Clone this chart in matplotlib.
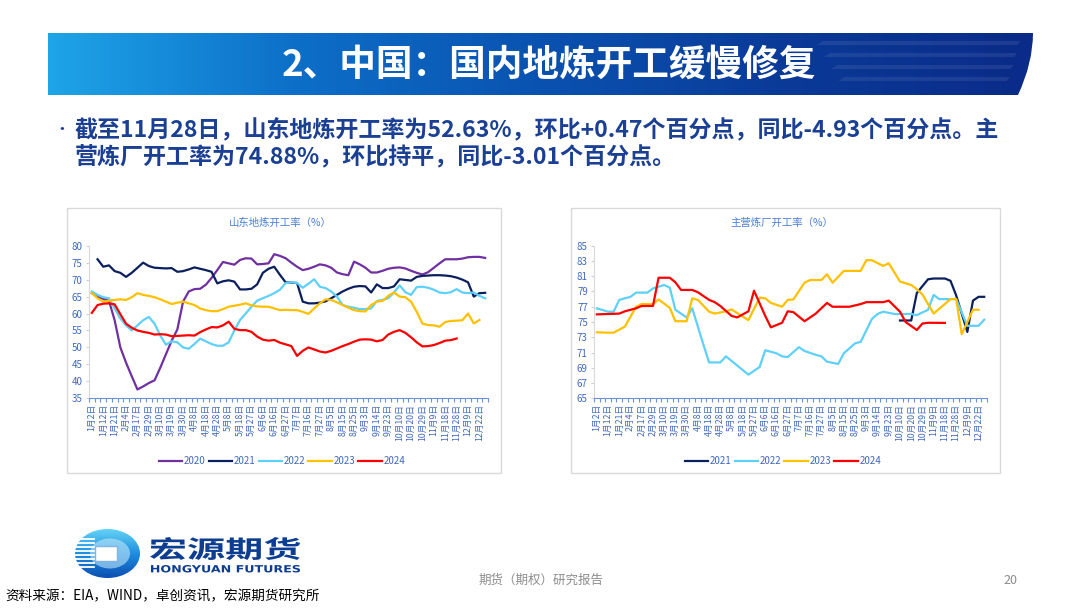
import numpy as np
import matplotlib
matplotlib.use("Agg")
import matplotlib.pyplot as plt
from matplotlib.colors import LinearSegmentedColormap
from matplotlib.patches import Rectangle, PathPatch, Ellipse, Polygon
from matplotlib.path import Path
from matplotlib.textpath import TextPath
from matplotlib.font_manager import FontProperties
from matplotlib.transforms import Affine2D

plt.rcParams['font.family'] = ['Noto Sans CJK SC', 'DejaVu Sans']

# ---------------------------------------------------------------- data
tick_labels = ['1月2日', '1月12日', '1月21日', '2月4日', '2月17日', '2月29日', '3月10日',
               '3月19日', '3月30日', '4月8日', '4月18日', '4月28日', '5月8日', '5月18日',
               '5月27日', '6月6日', '6月16日', '6月27日', '7月7日', '7月16日', '7月27日',
               '8月5日', '8月15日', '8月25日', '9月3日', '9月14日', '9月23日', '10月10日',
               '10月20日', '10月29日', '11月9日', '11月18日', '11月28日', '12月9日', '12月22日']

# 山东地炼开工率 (%)
sd_2020 = [66, 65, 64.3, 63.8, 58, 50, 45.5, 41.5, 37.6, 38.5,
           39.5, 40.3, 44, 48, 52, 55.3, 63.5, 66.5, 67.2, 67.3,
           68.5, 70.5, 72.8, 75.2, 74.8, 74.4, 75.8, 76.3, 76.2, 74.5,
           74.6, 74.8, 77.5, 77, 76.3, 75, 73.8, 72.8, 73.2, 73.8,
           74.5, 74.2, 73.5, 72.1, 71.6, 71.3, 75.3, 74.5, 73.5, 72.1,
           72.1, 72.6, 73.2, 73.5, 73.6, 73.3, 72.6, 72, 71.5, 72.2,
           73.5, 74.8, 76, 76, 76, 76.2, 76.6, 76.7, 76.7, 76.4]
sd_2021 = [None, 76, 73.8, 74.2, 72.5, 72, 70.8, 72, 73.5, 75,
           74, 73.5, 73.4, 73.3, 73.4, 72.3, 72.5, 73, 73.6, 73.2,
           72.8, 72.3, 68.9, 69.5, 69.8, 69.4, 67.1, 67.1, 67.3, 68.6,
           72, 73.2, 73.8, 71.4, 69.2, 69.1, 69, 63.5, 63, 63,
           63.2, 63.6, 64.5, 65.5, 66.5, 67.3, 67.9, 68.1, 68, 66.2,
           68.6, 67.5, 67.5, 68, 70.1, 69.9, 69.7, 70.8, 71.1, 71.2,
           71.3, 71.3, 71.2, 71, 70.6, 70, 69.2, 65, 66, 66.1]
sd_2022 = [66.5, 65.5, 64.8, 64.5, 61.5, 58.5, 56.5, 55, 56.5, 58,
           59, 57, 53.5, 50.8, 51.8, 51.5, 50, 49.6, 51, 52.6,
           51.8, 51, 50.5, 50.5, 51.5, 55, 58.1, 60, 62, 63.8,
           64.5, 65.2, 66, 67, 69, 69.2, 69, 67.6, 68.8, 70.1,
           67.9, 67.5, 66.5, 65, 62.5, 62, 61.7, 61.3, 61.3, 61.5,
           63.7, 64, 64.5, 66.2, 68.3, 66.3, 65.5, 67.8, 67.9, 67.6,
           67, 66.2, 66, 66.3, 67.2, 66.2, 66, 66.2, 65.2, 64.5]
sd_2023 = [66, 64.5, 63.5, 63.8, 64, 64.2, 64, 64.8, 66, 65.5,
           65.2, 64.8, 64.2, 63.5, 62.8, 63.2, 63.5, 63, 62.5, 61.5,
           61, 60.7, 60.7, 61.3, 62, 62.3, 62.6, 63, 62.4, 62.1,
           62, 62, 61.5, 61, 61.1, 61, 61, 60.5, 59.9, 61.5,
           63, 64.2, 64, 63.3, 62.5, 61.7, 61, 60.7, 60.6, 62.5,
           63.5, 63.7, 65.2, 66.2, 65, 64.8, 63.5, 60.5, 57, 56.6,
           56.5, 56.1, 57.5, 57.8, 57.9, 58, 60, 57.1, 58.1, None]
sd_2024 = [60.2, 62.5, 62.9, 63, 62.7, 59.8, 57, 55.8, 55, 54.6,
           54.3, 53.8, 53.9, 53.8, 53.3, 53.4, 53.5, 53.6, 53.5, 54.5,
           55.3, 56, 55.9, 56.5, 57.6, 55.5, 55.1, 55.1, 54.6, 53.2,
           52.3, 52, 52.2, 51.4, 50.9, 50.4, 47.5, 49, 50, 49.4,
           48.8, 48.5, 49, 49.7, 50.4, 51, 51.7, 52.3, 52.4, 52.3,
           51.8, 52.2, 53.8, 54.6, 55.1, 54.3, 53, 51.5, 50.3, 50.4,
           50.7, 51.3, 52, 52.16, 52.63, None, None, None, None, None]

# 主营炼厂开工率 (%)
zy_2021 = [None] * 54 + [75.2, None, 75.2, 78.8, None, 80.6, 80.7, None,
                         80.7, 80.4, 78.5, None, 73.7, 77.8, 78.3, 78.3]
zy_2022 = [76.8, None, 76.35, 76.35, 77.9, None, 78.3, 78.85, None, 78.85,
           79.4, None, 79.85, 79.5, 76.6, None, 75.6, 76.8, None, 72.0,
           69.7, None, 69.7, 70.5, None, None, None, 68.1, None, 69.1,
           71.3, None, 70.9, 70.5, 70.4, None, 71.7, 71.2, None, 70.7,
           70.5, 69.8, None, 69.5, 70.9, None, 72.2, 72.4, None, 75.4,
           76.05, 76.35, None, 76.05, 76.05, None, 76.05, 75.9, None, 76.6,
           78.55, 78.0, None, 78.0, 78.0, None, 74.5, None, 74.5, 75.3]
zy_2023 = [73.65, None, 73.6, 73.6, None, 74.4, None, 77.0, 77.35, None,
           77.35, 77.95, None, 76.85, 75.1, None, 75.1, 78.1, 77.9, None,
           76.35, 76.1, None, 76.4, 76.65, None, 75.7, 75.25, None, 78.2,
           78.1, 77.5, None, 77.0, 77.9, 77.95, None, 80.15, 80.5, None,
           80.5, 81.25, 80.15, None, 81.7, None, None, 81.7, 83.1, 83.1,
           None, 82.35, 82.7, None, 80.3, None, 79.85, 79.3, 78.6, None,
           76.1, None, None, 78.0, 78.0, 73.4, None, 76.6, 76.6, None]
zy_2024 = [76.0, None, 76.05, None, 76.1, 76.4, None, 76.8, 77.1, None,
           77.1, 80.8, None, 80.8, 80.2, 79.2, None, 79.2, 78.9, None,
           77.9, 77.6, 77.1, None, 75.8, 75.6, None, 76.4, 79.1, None,
           75.8, 74.3, None, 74.9, 76.4, 76.3, None, 75.1, None, 76.1,
           None, 77.5, 77.0, None, None, 77.0, None, 77.35, 77.6, None,
           None, 77.6, 77.8, None, 76.35, 75.0, None, 73.95, 74.8, 74.9,
           None, None, 74.88, None, None, None, None, None, None, None]

colors = {'2020': '#7030a0', '2021': '#0b1f5c', '2022': '#5fd0f7',
          '2023': '#ffc000', '2024': '#ff0000'}

# ---------------------------------------------------------------- figure
W, H = 1080, 608
fig = plt.figure(figsize=(W / 100, H / 100), dpi=100)


def fx(x):
    return x / W


def fy(y):
    return 1 - y / H


TXT_BLUE = '#1a3f93'
AX_BLUE = '#4068be'

# title banner
ax_b = fig.add_axes([fx(48), fy(95), 985 / W, 62 / H])
ax_b.set_xlim(0, 985)
ax_b.set_ylim(62, 0)
ax_b.axis('off')
banner_cmap = LinearSegmentedColormap.from_list(
    'banner', ['#1ea4e8', '#0d6fc8', '#0a52b0', '#0a3a98', '#0a2b88'])
grad = np.linspace(0, 1, 256).reshape(1, -1)
img = ax_b.imshow(grad, cmap=banner_cmap, extent=[0, 985, 62, 0], aspect='auto')
clip = Path([(0, 0), (985, 0), (985, 30), (970, 62), (0, 62), (0, 0)],
            [Path.MOVETO, Path.LINETO, Path.CURVE3, Path.CURVE3, Path.LINETO, Path.CLOSEPOLY])
clip_patch = PathPatch(clip, transform=ax_b.transData, facecolor='none', edgecolor='none')
ax_b.add_patch(clip_patch)
img.set_clip_path(clip_patch)
for yy in [8, 20, 32, 44]:
    ax_b.add_patch(Polygon([(770 + yy * 0.6, yy), (975 - yy * 0.3, yy),
                            (972 - yy * 0.3, yy + 4), (764 + yy * 0.6, yy + 4)],
                           closed=True, facecolor='white', alpha=0.08, edgecolor='none'))
fig.text(fx(549), fy(65), '2、中国：国内地炼开工缓慢修复', color='white', fontsize=26.4,
         fontweight='bold', ha='center', va='center')

# bullet text
fig.text(fx(53), fy(130), '•', color=TXT_BLUE, fontsize=12, ha='left', va='center')
fig.text(fx(75), fy(130), '截至11月28日，山东地炼开工率为52.63%，环比+0.47个百分点，同比-4.93个百分点。主',
         color=TXT_BLUE, fontsize=16.6, fontweight='bold', ha='left', va='center')
fig.text(fx(75), fy(157), '营炼厂开工率为74.88%，环比持平，同比-3.01个百分点。',
         color=TXT_BLUE, fontsize=16.6, fontweight='bold', ha='left', va='center')

# chart frames
for x0, x1 in [(67, 501), (571, 1000)]:
    fig.patches.append(Rectangle((fx(x0), fy(473)), (x1 - x0) / W, (473 - 208) / H,
                                 transform=fig.transFigure, facecolor='none',
                                 edgecolor='#d9d9d9', lw=1))


def style_axis(ax, n, ylo, yhi, ystep):
    ax.set_facecolor('none')
    ax.set_xlim(-0.5, n - 0.5)
    ax.set_ylim(ylo, yhi)
    ax.set_yticks(np.arange(ylo, yhi + 0.1, ystep))
    ax.set_xticks(range(0, n, 2))
    ax.set_xticklabels(tick_labels, rotation=90)
    ax.set_xticks(np.arange(-0.5, n, 1), minor=True)
    ax.tick_params(axis='x', which='major', length=0, pad=4, labelsize=6.3, labelcolor=AX_BLUE)
    ax.tick_params(axis='x', which='minor', length=3, color='#6a93d8', width=0.8)
    ax.tick_params(axis='y', length=2.5, color='#d0d0d0', labelsize=7, labelcolor=AX_BLUE, pad=2)
    for s in ['top', 'right']:
        ax.spines[s].set_visible(False)
    ax.spines['bottom'].set_color('#6a93d8')
    ax.spines['left'].set_color('#d9d9d9')


def draw(ax, vals, color, label):
    xs = [i for i, v in enumerate(vals) if v is not None]
    ys = [v for v in vals if v is not None]
    return ax.plot(xs, ys, color=color, lw=1.6, label=label, solid_joinstyle='round')[0]


ax1 = fig.add_axes([fx(89), fy(398.3), 399 / W, 152.6 / H])
ax2 = fig.add_axes([fx(594), fy(398.3), 393 / W, 152.6 / H])

for yr, vals in [('2020', sd_2020), ('2021', sd_2021), ('2022', sd_2022),
                 ('2023', sd_2023), ('2024', sd_2024)]:
    draw(ax1, vals, colors[yr], yr)
style_axis(ax1, len(sd_2020), 35, 80, 5)

for yr, vals in [('2021', zy_2021), ('2022', zy_2022), ('2023', zy_2023), ('2024', zy_2024)]:
    draw(ax2, vals, colors[yr], yr)
style_axis(ax2, len(zy_2022), 65, 85, 2)

fig.text(fx(280), fy(223), '山东地炼开工率（%）', color='#4a7fd6', fontsize=7.5, ha='center', va='center')
fig.text(fx(782), fy(223), '主营炼厂开工率（%）', color='#4a7fd6', fontsize=7.5, ha='center', va='center')

for ax, xc, nc in [(ax1, 282, 5), (ax2, 783, 4)]:
    ax.legend(loc='center', bbox_to_anchor=(fx(xc), fy(461)), bbox_transform=fig.transFigure,
              ncol=nc, frameon=False, fontsize=7, labelcolor=AX_BLUE, handlelength=2.4,
              handletextpad=0.2, columnspacing=0.3)

# logo
ax_l = fig.add_axes([0, 0, 1, 1])
ax_l.set_xlim(0, W)
ax_l.set_ylim(H, 0)
ax_l.axis('off')
ax_l.set_facecolor('none')

logo_cmap = LinearSegmentedColormap.from_list('logo', ['#62d2f6', '#1f8ee0', '#0c4fb2'])
ring = Ellipse((107.5, 553.5), 65, 49, facecolor='none', edgecolor='none')
ax_l.add_patch(ring)
logo_img = ax_l.imshow(np.linspace(0, 1, 64).reshape(-1, 1), cmap=logo_cmap,
                       extent=[75, 140, 578, 529], aspect='auto')
logo_img.set_clip_path(ring)
ax_l.add_patch(Ellipse((110, 553.5), 40, 30, facecolor='#bfe6fa', edgecolor='none', alpha=0.6))
ax_l.add_patch(Rectangle((95, 546), 22, 15, facecolor='white', edgecolor='#7fb6e6', lw=1))
for yy in range(539, 569, 4):
    ax_l.add_line(plt.Line2D([75, 94], [yy, yy], color='white', lw=1.3))


def fit_text(s, x0, x1, ytop, ybot, color, family, weight='bold'):
    tp = TextPath((0, 0), s, size=20, prop=FontProperties(family=family, weight=weight))
    bb = tp.get_extents()
    tr = (Affine2D().translate(-bb.x0, -bb.y0)
          .scale((x1 - x0) / bb.width, -(ybot - ytop) / bb.height)
          .translate(x0, ybot))
    ax_l.add_patch(PathPatch(tr.transform_path(tp), facecolor=color, edgecolor='none'))


fit_text('宏源期货', 150, 300, 537, 560, '#0d3d91', 'Noto Sans CJK SC')
fit_text('HONGYUAN FUTURES', 151, 300, 565, 572.5, '#0d3d91', 'DejaVu Sans')

# footer
fig.text(fx(541), fy(580), '期货（期权）研究报告', color='#8c8c8c', fontsize=9, ha='center', va='center')
fig.text(fx(1010), fy(580), '20', color='#8c8c8c', fontsize=9, ha='center', va='center')
fig.text(fx(5), fy(596), '资料来源：EIA，WIND，卓创资讯，宏源期货研究所', color='black', fontsize=9.8,
         ha='left', va='center')

fig.savefig('out.png', dpi=100)
